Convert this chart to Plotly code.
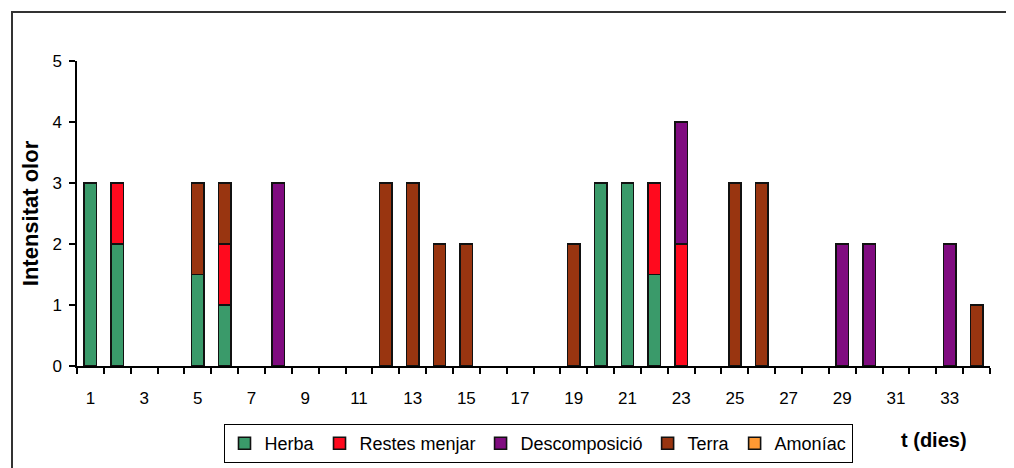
import plotly.graph_objects as go

days = list(range(1, 35))
herba =   [3, 2, 0, 0, 1.5, 1, 0, 0, 0, 0, 0, 0, 0, 0, 0, 0, 0, 0, 0, 3, 3, 1.5, 0, 0, 0, 0, 0, 0, 0, 0, 0, 0, 0, 0]
restes =  [0, 1, 0, 0, 0, 1, 0, 0, 0, 0, 0, 0, 0, 0, 0, 0, 0, 0, 0, 0, 0, 1.5, 2, 0, 0, 0, 0, 0, 0, 0, 0, 0, 0, 0]
descomp = [0, 0, 0, 0, 0, 0, 0, 3, 0, 0, 0, 0, 0, 0, 0, 0, 0, 0, 0, 0, 0, 0, 2, 0, 0, 0, 0, 0, 2, 2, 0, 0, 2, 0]
terra =   [0, 0, 0, 0, 1.5, 1, 0, 0, 0, 0, 0, 3, 3, 2, 2, 0, 0, 0, 2, 0, 0, 0, 0, 0, 3, 3, 0, 0, 0, 0, 0, 0, 0, 1]
amoniac = [0, 0, 0, 0, 0, 0, 0, 0, 0, 0, 0, 0, 0, 0, 0, 0, 0, 0, 0, 0, 0, 0, 0, 0, 0, 0, 0, 0, 0, 0, 0, 0, 0, 0]
tick_days = [1, 3, 5, 7, 9, 11, 13, 15, 17, 19, 21, 23, 25, 27, 29, 31, 33]

series = [
    ("Herba", herba, "#3A9A6A"),
    ("Restes menjar", restes, "#FF0A1E"),
    ("Descomposició", descomp, "#800C80"),
    ("Terra", terra, "#993510"),
    ("Amoníac", amoniac, "#FF9933"),
]

fig = go.Figure()
for name, vals, color in series:
    fig.add_trace(go.Bar(
        x=days, y=[v if v else None for v in vals], name=name,
        marker=dict(color=color, line=dict(color="#111111", width=1.6)),
        width=0.46,
    ))

# page body has an 8px margin: figure is 1006x460 placed at (8, 8)
OFF = 8
L, R, T, B = 77 - OFF, 990 - OFF, 61 - OFF, 366 - OFF
W, H = 1006, 460
PW, PH = R - L, B - T

FONT = "Liberation Sans, Arial, sans-serif"
fig.update_layout(
    barmode="stack",
    width=W, height=H,
    margin=dict(l=L, r=W - R, t=T, b=H - B, autoexpand=False),
    paper_bgcolor="white", plot_bgcolor="white",
    font=dict(family=FONT, color="black", size=17),
    showlegend=True,
    legend=dict(orientation="h", x=(538 - 77) / 913, xanchor="center",
                y=(366 - 424) / 305, yanchor="top",
                bordercolor="black", borderwidth=1, font=dict(size=18),
                itemwidth=30, traceorder="normal", tracegroupgap=0),
    xaxis=dict(range=[0.5, 34.5], tickmode="array", tickvals=tick_days,
               ticktext=[str(d) for d in tick_days], ticks="", showline=True,
               linecolor="black", linewidth=1.5, showgrid=False, zeroline=False,
               ticklabelstandoff=16, tickfont=dict(size=17),
               minor=dict(ticks="outside", tick0=0.5, dtick=1, ticklen=6,
                          tickcolor="black", tickwidth=1.5, showgrid=False)),
    yaxis=dict(range=[0, 5], dtick=1, ticks="outside", ticklen=6, tickwidth=1.5,
               tickcolor="black", showline=True, linecolor="black", linewidth=1.5,
               showgrid=False, zeroline=False, tickfont=dict(size=17),
               ticklabelstandoff=4,
               title=dict(text="<b>Intensitat olor</b>", font=dict(size=22), standoff=8)),
    shapes=[dict(type="rect", xref="paper", yref="paper",
                 x0=(12 - 77) / 913, x1=(1011 - 77) / 913,
                 y0=-0.40, y1=(366 - 12) / 305,
                 line=dict(color="#333333", width=2), fillcolor="rgba(0,0,0,0)", layer="below")],
    annotations=[dict(text="<b>t (dies)</b>", xref="paper", yref="paper",
                      x=(934 - 77) / 913, y=(366 - 440) / 305, showarrow=False,
                      xanchor="center", yanchor="middle", font=dict(size=20))],
)

fig.write_html("out.html")
